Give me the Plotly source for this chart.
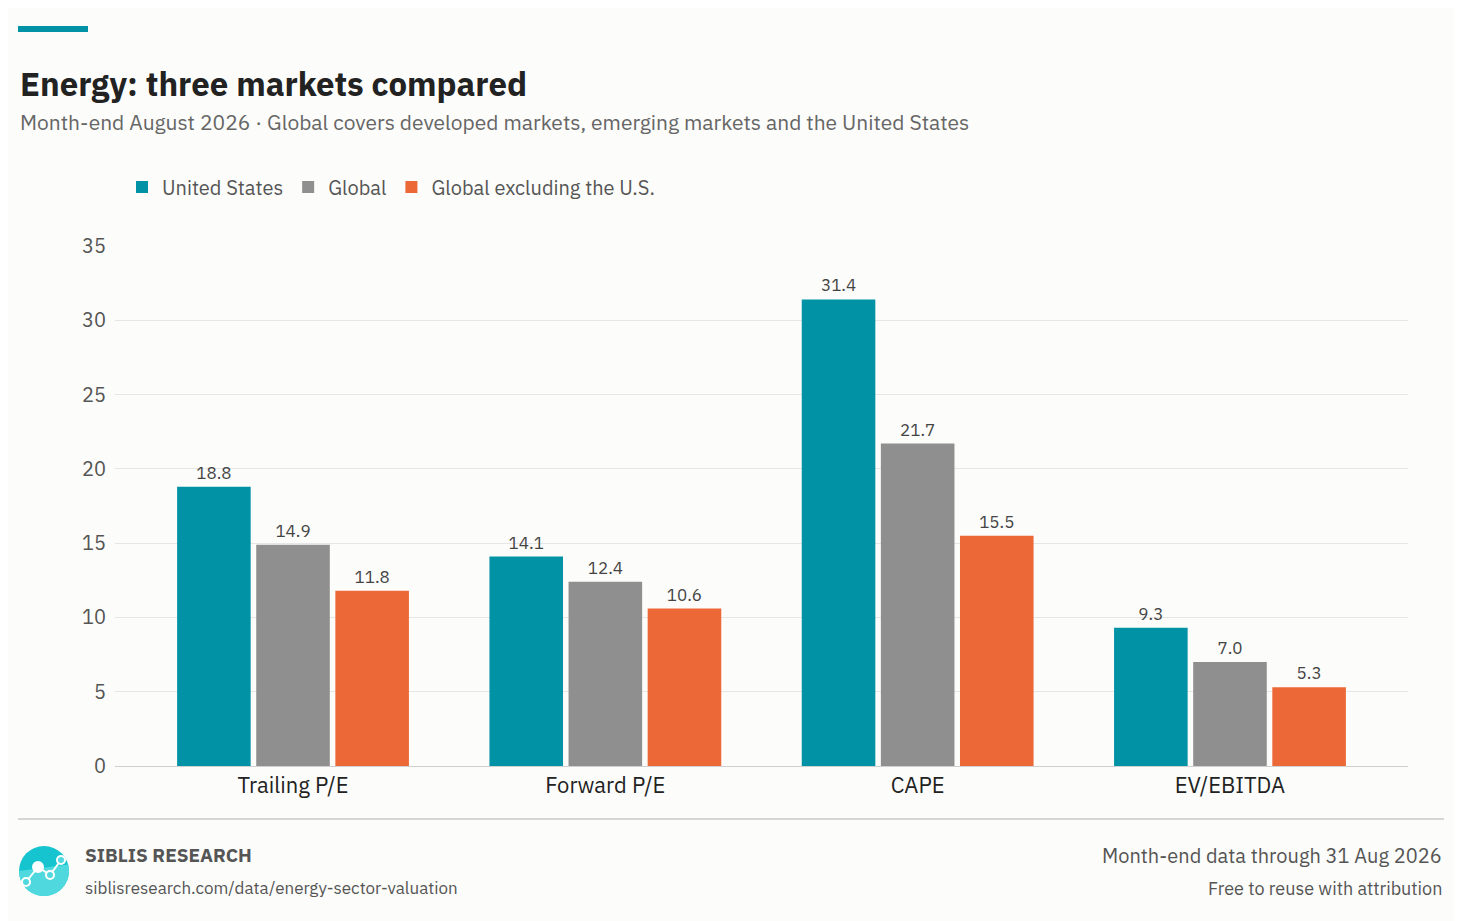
import math
import plotly.graph_objects as go

categories = ["Trailing P/E", "Forward P/E", "CAPE", "EV/EBITDA"]
us = [18.8, 14.1, 31.4, 9.3]
glob = [14.9, 12.4, 21.7, 7.0]
ex_us = [11.8, 10.6, 15.5, 5.3]
series = [("United States", us, "#0193a5"), ("Global", glob, "#8f8f8f"),
          ("Global excluding the U.S.", ex_us, "#ec6836")]

OFF = 8  # browser body margin
W, H = 1462 - OFF, 921 - OFF
L, R, T, B = 115 - OFF, 1408 - OFF, 246 - OFF, 766 - OFF
FONT = "IBM Plex Sans, Noto Sans, sans-serif"


def px(x):
    return (x - OFF - L) / (R - L)


def py(y):
    return (B - (y - OFF)) / (B - T)


fig = go.Figure()
for name, vals, col in series:
    fig.add_trace(go.Bar(
        x=categories, y=vals, name=name, marker_color=col, marker_line_width=0,
        text=[f"{v:.1f}" for v in vals], textposition="outside", cliponaxis=False,
        textfont=dict(size=17, color="#444"),
    ))

fig.update_layout(
    width=W, height=H, paper_bgcolor="#fcfcfa", plot_bgcolor="#fcfcfa",
    font=dict(family=FONT, color="#333"),
    margin=dict(l=L, r=W - R, t=T, b=H - B, autoexpand=False),
    barmode="group", bargap=0.24, bargroupgap=0.07,
    showlegend=True,
    legend=dict(orientation="h", x=px(122), y=py(187), xanchor="left", yanchor="middle",
                font=dict(size=20, color="#555"), itemwidth=30, traceorder="normal"),
    xaxis=dict(range=[-0.57, 3.57], showline=True, linecolor="#cfcfcf", linewidth=1,
               ticks="", tickfont=dict(size=22, color="#222")),
    yaxis=dict(range=[0, 35], dtick=5, gridcolor="#e6e6e6", zeroline=False,
               tickfont=dict(size=20, color="#555"), ticks="",
               ticklabelstandoff=8),
)

ann = [
    dict(x=px(18), y=py(83), text="<b>Energy: three markets compared</b>", size=33, color="#222", xanchor="left"),
    dict(x=px(18), y=py(122), text="Month-end August 2026 · Global covers developed markets, emerging markets and the United States",
         size=21, color="#666", xanchor="left"),
    dict(x=px(83), y=py(855), text="<b>SIBLIS RESEARCH</b>", size=19, color="#555", xanchor="left"),
    dict(x=px(83), y=py(888), text="siblisresearch.com/data/energy-sector-valuation", size=17, color="#555", xanchor="left"),
    dict(x=px(1444), y=py(855), text="Month-end data through 31 Aug 2026", size=20, color="#555", xanchor="right"),
    dict(x=px(1444), y=py(888), text="Free to reuse with attribution", size=18, color="#555", xanchor="right"),
]
for a in ann:
    fig.add_annotation(x=a["x"], y=a["y"], xref="paper", yref="paper", text=a["text"],
                       showarrow=False, xanchor=a["xanchor"], yanchor="middle",
                       font=dict(size=a["size"], color=a["color"], family=FONT))

# accent bar and footer rule
fig.add_shape(type="rect", xref="paper", yref="paper", x0=px(18), x1=px(88), y0=py(26), y1=py(32),
              fillcolor="#0193a5", line_width=0)
fig.add_shape(type="line", xref="paper", yref="paper", x0=px(18), x1=px(1444), y0=py(819), y1=py(819),
              line=dict(color="#d6d6d6", width=2))

# logo: two-tone disc with a small line chart
cx, cy, r = 44, 871, 25
fig.add_shape(type="circle", xref="paper", yref="paper", x0=px(cx - r), x1=px(cx + r),
              y0=py(cy + r), y1=py(cy - r), fillcolor="#15c4cf", line_width=0)
arc = [(cx + r * math.cos(math.radians(a)), cy + r * math.sin(math.radians(a)))
       for a in range(-15, 181, 5)]
path = "M " + " L ".join(f"{px(x)},{py(y)}" for x, y in arc) + " Z"
fig.add_shape(type="path", xref="paper", yref="paper", path=path, fillcolor="#4fd9de", line_width=0)
pts = [(26, 882), (38, 867), (50, 875), (61, 860)]
for (x0, y0), (x1, y1) in zip(pts[:-1], pts[1:]):
    fig.add_shape(type="line", xref="paper", yref="paper", x0=px(x0), y0=py(y0), x1=px(x1), y1=py(y1),
                  line=dict(color="white", width=2))
for (x, y), rr, fc in zip(pts, [4, 5, 4, 4], ["#4fd9de", "white", "#4fd9de", "#4fd9de"]):
    fig.add_shape(type="circle", xref="paper", yref="paper", x0=px(x - rr), x1=px(x + rr),
                  y0=py(y + rr), y1=py(y - rr), fillcolor=fc, line=dict(color="white", width=2))

fig.write_html("out.html")
